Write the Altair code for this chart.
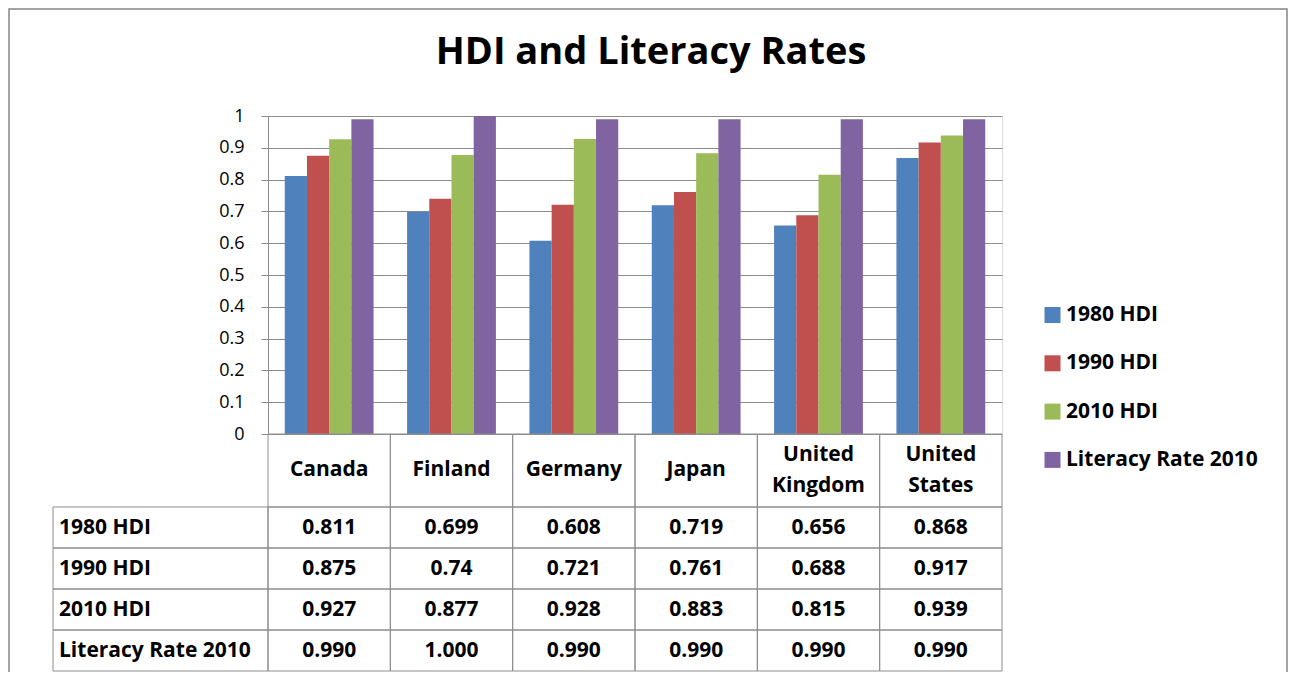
import altair as alt
import pandas as pd

title_text = "HDI and Literacy Rates"
countries = ["Canada", "Finland", "Germany", "Japan", "United Kingdom", "United States"]
series = ["1980 HDI", "1990 HDI", "2010 HDI", "Literacy Rate 2010"]
hdi_1980 = [0.811, 0.699, 0.608, 0.719, 0.656, 0.868]
hdi_1990 = [0.875, 0.74, 0.721, 0.761, 0.688, 0.917]
hdi_2010 = [0.927, 0.877, 0.928, 0.883, 0.815, 0.939]
literacy_2010 = [0.990, 1.000, 0.990, 0.990, 0.990, 0.990]
table_text = [
    ["0.811", "0.699", "0.608", "0.719", "0.656", "0.868"],
    ["0.875", "0.74", "0.721", "0.761", "0.688", "0.917"],
    ["0.927", "0.877", "0.928", "0.883", "0.815", "0.939"],
    ["0.990", "1.000", "0.990", "0.990", "0.990", "0.990"],
]
colors = ["#4F81BD", "#C0504D", "#9BBB59", "#8064A2"]
y_ticks = [0, 0.1, 0.2, 0.3, 0.4, 0.5, 0.6, 0.7, 0.8, 0.9, 1]

FONT = "Open Sans"
GRAY = "#8c8c8c"
W, H = 734, 318
FS = 21

values = [hdi_1980, hdi_1990, hdi_2010, literacy_2010]
rows = []
for si, s in enumerate(series):
    for ci, c in enumerate(countries):
        rows.append({"country": c, "series": s, "value": values[si][ci], "label": table_text[si][ci]})
df = pd.DataFrame(rows)
df_c = pd.DataFrame({"country": countries,
                     "label": [c.replace(" ", "\n") for c in countries],
                     "lines": [len(c.split(" ")) for c in countries]})
df_s = pd.DataFrame({"series": series})
df_t = pd.DataFrame({"title": [title_text]})

xscale = alt.Scale(domain=countries, paddingInner=0, paddingOuter=0)
x_enc = alt.X("country:N", sort=countries, scale=xscale, axis=None)
row_scale = alt.Scale(domain=series, range=[391, 555], paddingInner=0, paddingOuter=0)
y_row = alt.Y("series:N", sort=series, scale=row_scale, axis=None)

frame = alt.Chart(df_t).mark_rect(fill="white", fillOpacity=0, stroke="#858585", strokeWidth=1.5).encode(
    x=alt.value(-259), x2=alt.value(1019), y=alt.value(-107), y2=alt.value(700)
)
title = alt.Chart(df_t).mark_text(font=FONT, fontSize=38, fontWeight="bold", color="black",
                                  align="center", baseline="alphabetic").encode(
    x=alt.value(383), y=alt.value(-52), text="title:N"
)

bars = alt.Chart(df).mark_bar().encode(
    x=x_enc,
    xOffset=alt.XOffset("series:N", sort=series, scale=alt.Scale(paddingInner=0, paddingOuter=0.755)),
    y=alt.Y("value:Q", scale=alt.Scale(domain=[0, 1], nice=False),
            axis=alt.Axis(values=y_ticks, format=".1~f", grid=True, gridColor=GRAY, domainColor=GRAY,
                          tickColor=GRAY, tickSize=7, labelPadding=17, labelFontSize=18, labelFont=FONT,
                          labelColor="black", title=None)),
    color=alt.Color("series:N", sort=series, scale=alt.Scale(domain=series, range=colors),
                    legend=alt.Legend(title=None, orient="none", legendX=774, legendY=188.5,
                                      symbolType="square", symbolSize=256, symbolStrokeWidth=0,
                                      labelFontSize=FS, labelFont=FONT, labelFontWeight="bold",
                                      labelColor="black", rowPadding=26.3, labelOffset=3, padding=0,
                                      labelLimit=400)),
)

head_cells = alt.Chart(df_c).mark_rect(fill="white", fillOpacity=0, stroke=GRAY, strokeWidth=1).encode(
    x=x_enc, y=alt.value(318), y2=alt.value(391)
)
head_text1 = alt.Chart(df_c).transform_filter("datum.lines == 1").mark_text(
    font=FONT, fontSize=FS, fontWeight="bold", color="black", baseline="middle").encode(
    x=x_enc, y=alt.value(354), text="label:N"
)
head_text2 = alt.Chart(df_c).transform_filter("datum.lines == 2").mark_text(
    lineBreak="\n", font=FONT, fontSize=FS, fontWeight="bold", color="black", baseline="middle",
    lineHeight=31).encode(
    x=x_enc, y=alt.value(339), text="label:N"
)
body_cells = alt.Chart(df).mark_rect(fill="white", fillOpacity=0, stroke=GRAY, strokeWidth=1).encode(
    x=x_enc, y=y_row
)
body_text = alt.Chart(df).mark_text(font=FONT, fontSize=FS, fontWeight="bold", color="black",
                                    baseline="middle").encode(
    x=x_enc, y=y_row, text="label:N"
)
row_cells = alt.Chart(df_s).mark_rect(fill="white", fillOpacity=0, stroke=GRAY, strokeWidth=1).encode(
    x=alt.value(-215), x2=alt.value(0), y=y_row
)
row_text = alt.Chart(df_s).mark_text(font=FONT, fontSize=FS, fontWeight="bold", color="black",
                                     align="left", baseline="middle").encode(
    x=alt.value(-209), y=y_row, text="series:N"
)

chart = alt.layer(frame, title, bars, head_cells, head_text1, head_text2, body_cells, body_text,
                  row_cells, row_text).resolve_scale(
    y="independent"
).properties(
    width=W, height=H,
    autosize=alt.AutoSizeParams(type="none"),
    padding={"left": 260, "top": 108, "right": 287, "bottom": 238},
).configure_view(stroke=None).configure(background="white")

chart.save("out.html", embed_options={"renderer": "svg", "actions": False})
